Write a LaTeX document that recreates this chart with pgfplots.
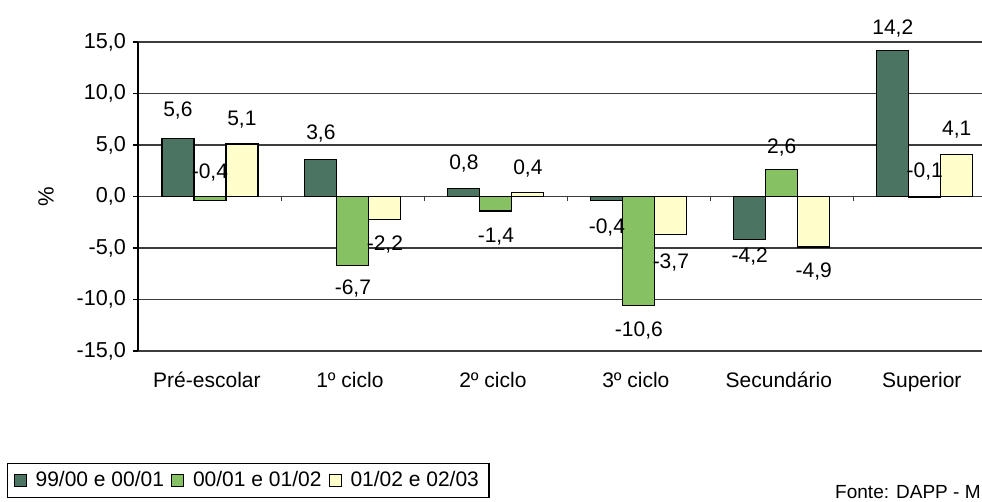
\documentclass[border=0pt]{standalone}
\usepackage{pgfplots}
\pgfplotsset{compat=1.18}
\usepackage{fontspec}
\setmainfont{Liberation Sans}
\definecolor{cdark}{RGB}{76,116,98}
\definecolor{cgreen}{RGB}{134,194,100}
\definecolor{cyellow}{RGB}{255,255,204}
\definecolor{cgrid}{RGB}{60,60,60}
\pgfplotsset{mybar/.style={ybar, bar width=16pt, draw=black, line width=0.6pt,
  legend image code/.code={\draw[##1, line width=0.5pt] (0pt,-3pt) rectangle (6pt,3pt);}}}
\begin{document}
\begin{tikzpicture}
\begin{axis}[
  at={(69pt,75.5pt)}, anchor=south west,
  scale only axis, width=422pt, height=154.5pt,
  xmin=-0.503, xmax=5.40, ymin=-15, ymax=15,
  clip=false,
  axis x line=bottom, axis y line=left,
  axis line style={-},
  x axis line style={cgrid, line width=0.6pt},
  y axis line style={black, line width=0.6pt},
  xtick={0,...,5},
  xticklabels={Pré-escolar,1º ciclo,2º ciclo,3º ciclo,Secundário,Superior},
  x tick style={draw=none},
  xticklabel style={font=\fontsize{10.5}{12}\selectfont, yshift=-4.5pt, xshift=-1.5pt},
  ytick={-15,-10,...,15},
  y tick style={black, line width=0.6pt},
  tick align=outside, major tick length=2.5pt,
  yticklabel style={font=\fontsize{10.8}{12}\selectfont},
  /pgf/number format/.cd, fixed, fixed zerofill, precision=1, use comma, assume math mode=true,
  /pgfplots/.cd,
  ymajorgrids, grid style={cgrid, line width=0.6pt},
  ylabel={\%},
  every axis y label/.style={at={(axis description cs:-0.109,0.5)}, rotate=90, anchor=center, font=\fontsize{11}{12}\selectfont},
  legend columns=3,
  legend style={at={(axis description cs:-0.1552,-0.3625)}, anchor=north west,
    draw=black, line width=0.6pt, font=\fontsize{10.5}{12}\selectfont,
    inner xsep=3pt, inner ysep=2pt,
    /tikz/every odd column/.append style={column sep=2.5pt},
    /tikz/every even column/.append style={column sep=1.5pt}},
]
% data labels (drawn first so that bars overlap them as in the reference)
\addplot[forget plot, only marks, mark=none, nodes near coords, point meta=explicit symbolic,
  every node near coord/.append style={anchor=center, font=\fontsize{10.5}{12}\selectfont, text=black}]
  table[meta=label] {
x y label
-0.2238 8.3 5,6
0 2.3 -0,4
0.2238 7.5 5,1
0.7762 6.1 3,6
1 -8.9 -6,7
1.2238 -4.7 -2,2
1.7762 3.25 0,8
2 -3.9 -1,4
2.2238 2.7 0,4
2.7762 -3.05 -0,4
3 -13.0 -10,6
3.2238 -6.4 -3,7
3.7762 -5.85 -4,2
4 4.8 2,6
4.2238 -7.3 -4,9
4.7762 16.3 14,2
5 2.4 -0,1
5.2238 6.5 4,1
};
\addplot[mybar, bar shift=-16pt, fill=cdark] coordinates {(0,5.6) (1,3.6) (2,0.8) (3,-0.4) (4,-4.2) (5,14.2)};
\addlegendentry{99/00 e 00/01}
\addplot[mybar, bar shift=0pt, fill=cgreen] coordinates {(0,-0.4) (1,-6.7) (2,-1.4) (3,-10.6) (4,2.6) (5,-0.1)};
\addlegendentry{00/01 e 01/02}
\addplot[mybar, bar shift=16pt, fill=cyellow] coordinates {(0,5.1) (1,-2.2) (2,0.4) (3,-3.7) (4,-4.9) (5,4.1)};
\addlegendentry{01/02 e 02/03}
\pgfplotsinvokeforeach{0.5,1.5,2.5,3.5,4.5}{
  \draw[cgrid, line width=0.6pt] (axis cs:#1,0) -- ([yshift=-2.5pt]axis cs:#1,0);
}
\end{axis}
\node[anchor=base east, font=\fontsize{9.5}{11}\selectfont, inner sep=0pt] at (490.5pt,1.5pt) {Fonte: DAPP - M};
\pgfresetboundingbox
\useasboundingbox (0,0) rectangle (491pt,251pt);
\end{tikzpicture}
\end{document}
